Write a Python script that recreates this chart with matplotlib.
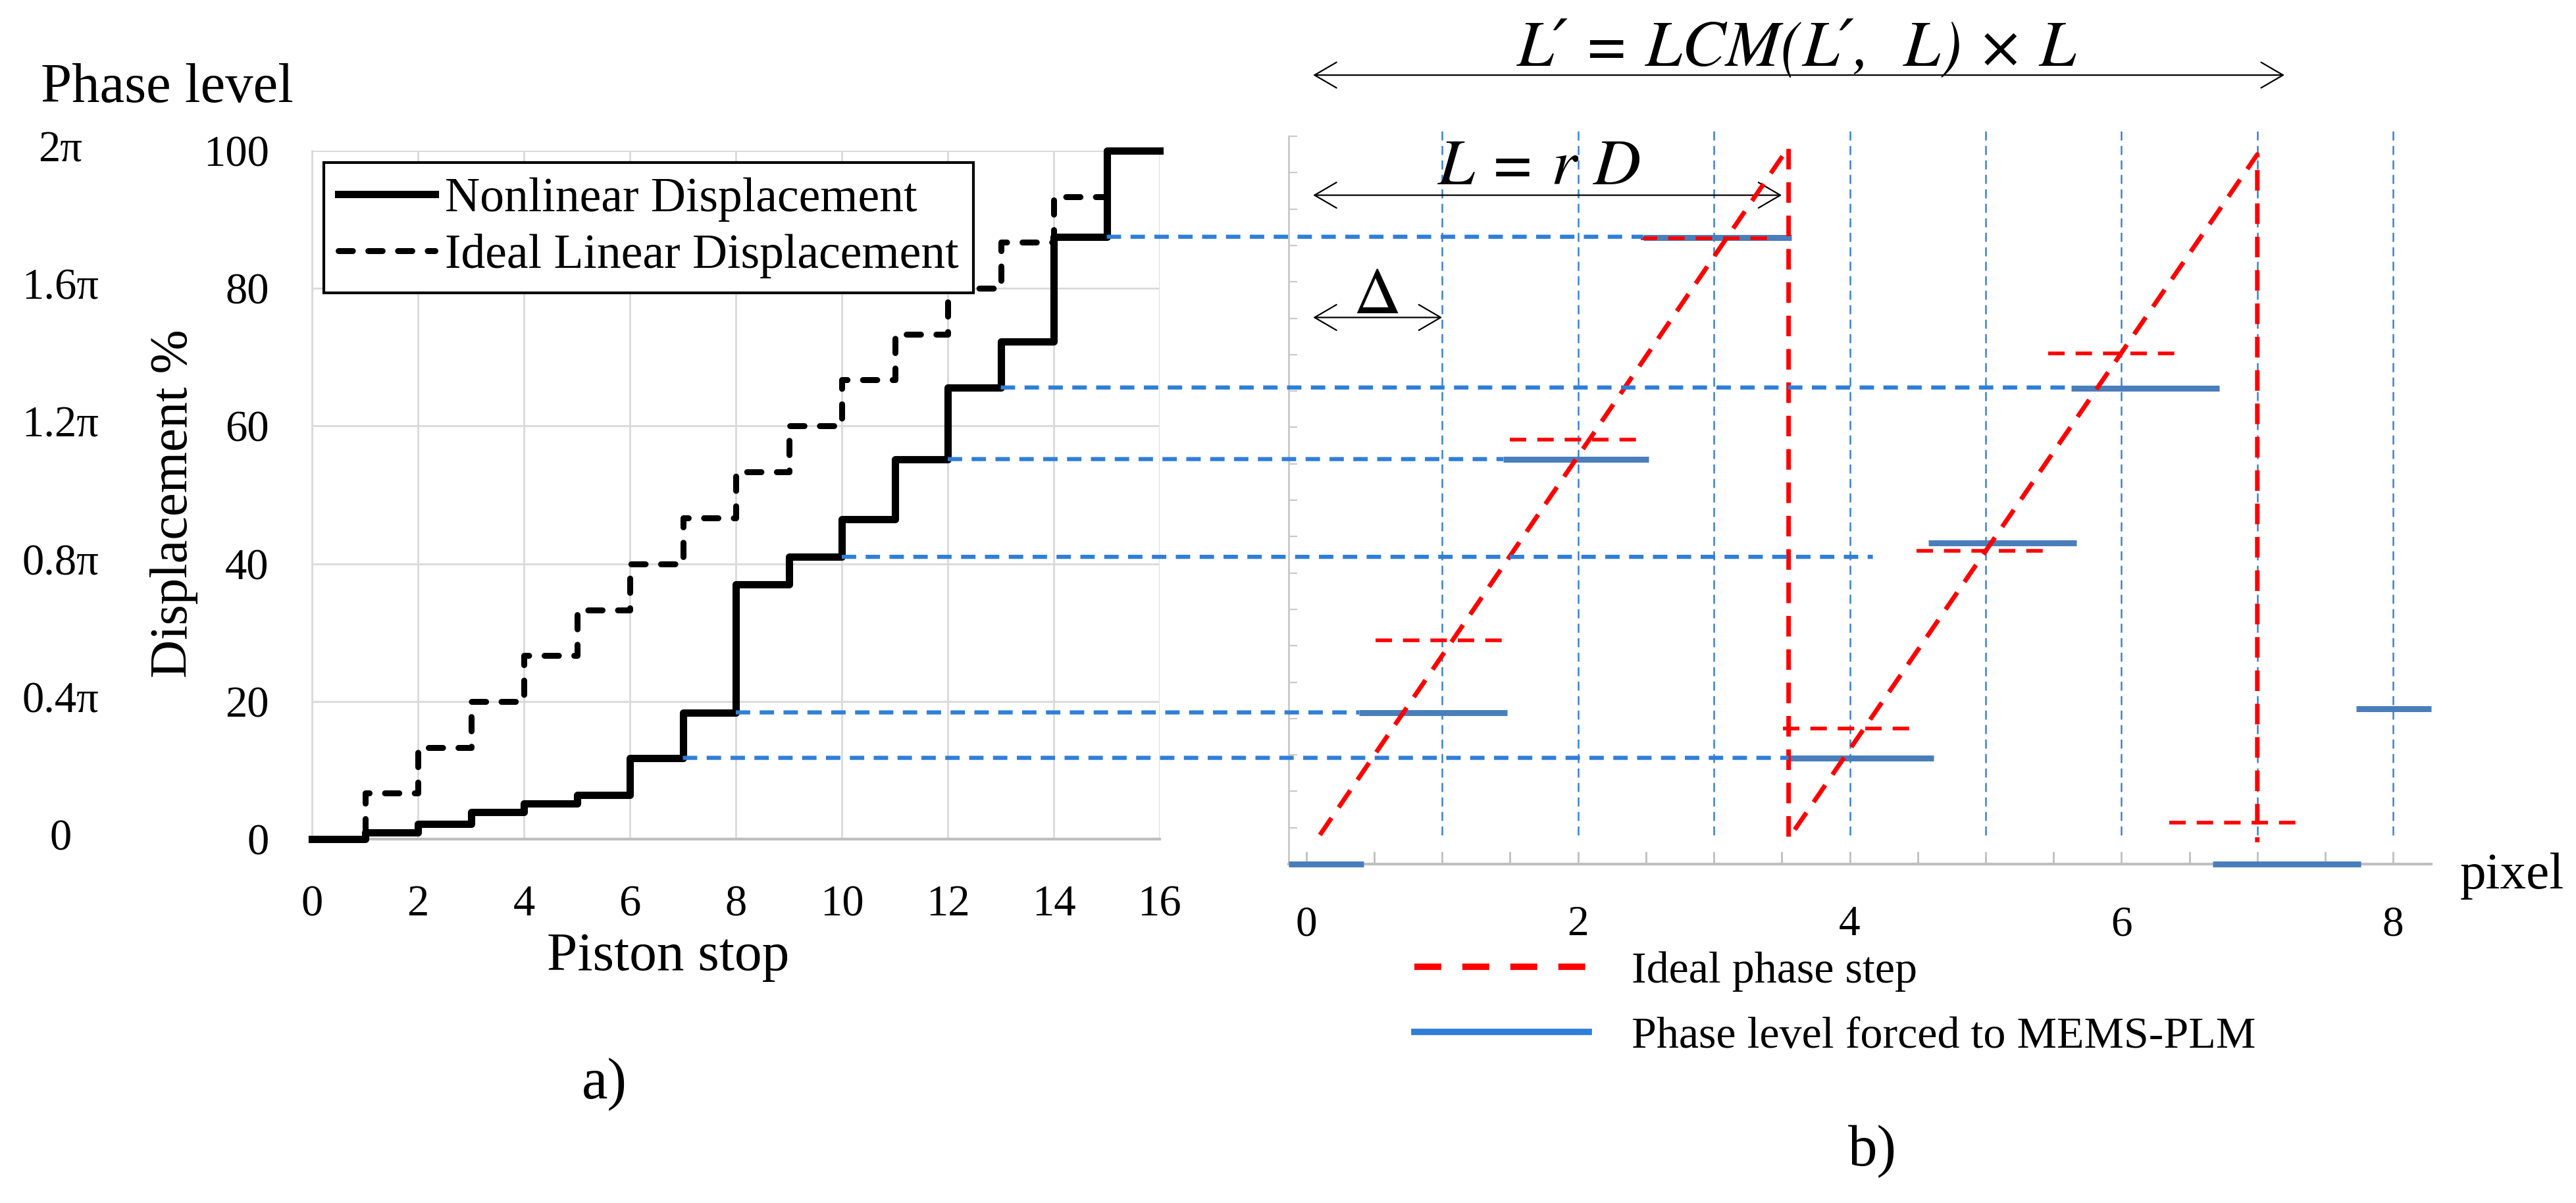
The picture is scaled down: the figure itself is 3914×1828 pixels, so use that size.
import matplotlib
matplotlib.use('Agg')
import matplotlib.pyplot as plt
from matplotlib.patches import ConnectionPatch
from matplotlib.lines import Line2D
from matplotlib.ticker import MultipleLocator
from matplotlib.transforms import blended_transform_factory

plt.rcParams['font.family'] = ['Liberation Serif', 'DejaVu Serif']
plt.rcParams['mathtext.fontset'] = 'stix'

W, H = 3914, 1828

# panel a) - piston stop vs displacement
piston_stop = list(range(17))
nonlinear_disp = [0, 1, 2.2, 3.9, 5.2, 6.4, 11.8, 18.4, 37, 41, 46.5, 55.2, 65.6, 72.3, 87.5, 100, 100]
ideal_stop = list(range(16))
ideal_disp = [0, 6.7, 13.3, 20, 26.7, 33.3, 40, 46.7, 53.3, 60, 66.7, 73.3, 80, 86.7, 93.3, 100]
disp_ticks = [0, 20, 40, 60, 80, 100]
phase_labels = ['0', '0.4\u03c0', '0.8\u03c0', '1.2\u03c0', '1.6\u03c0', '2\u03c0']

# panel b) - phase profile over pixels (phase as fraction of 2pi)
saw_x = [0.1, 3.55, 3.55, 7.0, 7.0]
saw_y = [0.04, 0.985, 0.035, 0.975, 0.03]
level_start = [-0.13, 0.39, 1.45, 2.48, 3.55, 4.58, 5.63, 6.67, 7.73]
level_end = [0.42, 1.48, 2.52, 3.57, 4.62, 5.67, 6.72, 7.76, 8.28]
level_phase = [0.0, 0.208, 0.556, 0.861, 0.146, 0.441, 0.654, 0.0, 0.213]
ideal_start = [0.51, 1.50, 2.46, 3.51, 4.49, 5.46, 6.35]
ideal_end = [1.50, 2.48, 3.47, 4.49, 5.48, 6.45, 7.34]
ideal_phase = [0.307, 0.583, 0.860, 0.186, 0.430, 0.702, 0.057]
pixel_edges = [1, 2, 3, 4, 5, 6, 7, 8]
pixel_ticks = [0, 2, 4, 6, 8]

# dashed links: step index in panel a) -> pixel where the link stops in panel b)
link_step = [14, 12, 11, 9, 7, 6]
link_end = [2.48, 5.63, 1.45, 4.17, 0.39, 3.55]

# span arrows (Delta, L = rD, L')
span_end = [1.0, 3.5, 7.2]
span_y = [0.751, 0.919, 1.084]


def fx(px):
    return px / W


def fy(py):
    return 1 - py / H


fig = plt.figure(figsize=(W / 100, H / 100), dpi=100)

# ---------------- panel a) ----------------
ax1 = fig.add_axes([fx(474), fy(1275), fx(1762) - fx(474), fy(229) - fy(1275)])
ax1.step(piston_stop, nonlinear_disp, where='post', color='black', lw=8,
         label='Nonlinear Displacement', zorder=4, clip_on=False)
ax1.step(ideal_stop, ideal_disp, where='post', color='black', lw=6.5,
         ls=(0, (2.4, 2.6)), dash_capstyle='round',
         label='Ideal Linear Displacement', zorder=3, clip_on=False)
ax1.set_xlim(0, 16)
ax1.set_ylim(0, 100)
ax1.set_xticks(range(0, 17, 2))
ax1.set_yticks(disp_ticks)
ax1.grid(True, color='#d9d9d9', lw=2)
ax1.set_axisbelow(True)
ax1.tick_params(length=0, labelsize=48)
ax1.tick_params(axis='x', pad=50)
ax1.tick_params(axis='y', pad=47)
for s in ['top', 'right']:
    ax1.spines[s].set_visible(False)
ax1.spines['left'].set_color('#d9d9d9')
ax1.spines['left'].set_linewidth(2)
ax1.spines['bottom'].set_color('#bfbfbf')
ax1.spines['bottom'].set_linewidth(3)

ax1.set_ylabel('Displacement %', fontsize=58)
ax1.yaxis.set_label_coords((301 - 474) / 1288, 0.487)
ax1.set_xlabel('Piston stop', fontsize=60)
ax1.xaxis.set_label_coords((1015 - 474) / 1288, -0.135)

# phase level scale beside displacement scale
ptrans = blended_transform_factory(fig.transFigure, ax1.transData)
for v, lab in zip(disp_ticks, phase_labels):
    ax1.text(fx(92), v, lab, transform=ptrans, ha='center', va='center', fontsize=48)
fig.text(fx(62), fy(155), 'Phase level', ha='left', va='baseline', fontsize=61)

leg1 = ax1.legend(loc='upper left', bbox_to_anchor=(fx(492), fy(247)),
                  bbox_transform=fig.transFigure, fontsize=53, frameon=True,
                  fancybox=False, edgecolor='black', framealpha=1, borderaxespad=0,
                  handlelength=2.0, handletextpad=0.2, labelspacing=0.25, borderpad=0.3)
leg1.get_frame().set_linewidth(3)

# ---------------- panel b) ----------------
ax2 = fig.add_axes([fx(1958), fy(1313), fx(3694) - fx(1958), fy(207) - fy(1313)])
ax2.set_xlim(-0.13, 8.28)
ax2.set_ylim(0, 1)

ax2.vlines(pixel_edges, 0.04, 1.01, colors='#3a80d6', lw=1.8,
           linestyles=(0, (5.5, 3.3)), zorder=1, clip_on=False)
ax2.hlines(level_phase, level_start, level_end, colors='#4a7ebb', lw=6.5,
           zorder=3, clip_on=False)
ax2.hlines(ideal_phase, ideal_start, ideal_end, colors='red', lw=4,
           linestyles=(0, (4.5, 3.0)), zorder=4)
ax2.plot(saw_x, saw_y, color='red', lw=5, ls=(0, (4.5, 2.8)), zorder=5, clip_on=False)

for s in ['top', 'right']:
    ax2.spines[s].set_visible(False)
ax2.spines['left'].set_color('#c8c8c8')
ax2.spines['left'].set_linewidth(2)
ax2.spines['bottom'].set_color('#bfbfbf')
ax2.spines['bottom'].set_linewidth(3)
ax2.set_xticks(pixel_ticks)
ax2.xaxis.set_minor_locator(MultipleLocator(0.5))
ax2.yaxis.set_major_locator(MultipleLocator(0.05))
ax2.tick_params(axis='x', which='both', direction='in', length=14, width=2,
                color='#bfbfbf', labelsize=47, pad=45)
ax2.tick_params(axis='y', direction='in', length=9, width=1.5, color='#c8c8c8',
                labelleft=False)
fig.text(fx(3738), fy(1350), 'pixel', ha='left', va='baseline', fontsize=57)

# links between the two panels
ltrans = blended_transform_factory(ax2.transData, ax1.transData)
for i, xe in zip(link_step, link_end):
    v = nonlinear_disp[i]
    con = ConnectionPatch(xyA=(i + 1, v), coordsA=ax1.transData,
                          xyB=(xe, v), coordsB=ltrans,
                          color='#2f7ed8', lw=4.5, linestyle=(0, (3.5, 2.3)),
                          capstyle='butt', zorder=2)
    fig.add_artist(con)

# span arrows and formulas
for xe, yy in zip(span_end, span_y):
    ax2.annotate('', xy=(xe, yy), xytext=(0.05, yy),
                 arrowprops=dict(arrowstyle='<->,head_length=1.2,head_width=0.7',
                                 lw=1.6, color='black', shrinkA=0, shrinkB=0,
                                 mutation_scale=20),
                 annotation_clip=False)
math_fonts = ['STIXGeneral', 'DejaVu Serif']
ax2.text(0.52, 0.757, '\u0394', ha='center', va='baseline', fontsize=72,
         family=math_fonts)
ax2.text(1.72, 0.934, 'L = r D', ha='center', va='baseline', fontsize=72,
         family=math_fonts, style='italic')
ax2.text(3.61, 1.097, 'L\u2032 = LCM(L\u2032,  L) \u00d7 L', ha='center', va='baseline',
         fontsize=72, family=math_fonts, style='italic')

handles = [Line2D([], [], color='red', lw=7, ls=(0, (4.2, 3.3))),
           Line2D([], [], color='#2f7ed8', lw=7)]
ax2.legend(handles, ['Ideal phase step', 'Phase level forced to MEMS-PLM'],
           loc='upper left', bbox_to_anchor=(fx(2149), fy(1445)),
           bbox_transform=fig.transFigure, frameon=False, fontsize=49,
           borderpad=0, borderaxespad=0, handlelength=3.9, handletextpad=0.95,
           labelspacing=0.55)

fig.text(fx(918), fy(1648), 'a)', ha='center', va='center', fontsize=64)
fig.text(fx(2845), fy(1750), 'b)', ha='center', va='center', fontsize=64)

fig.savefig('out.png', dpi=100, facecolor='white')
